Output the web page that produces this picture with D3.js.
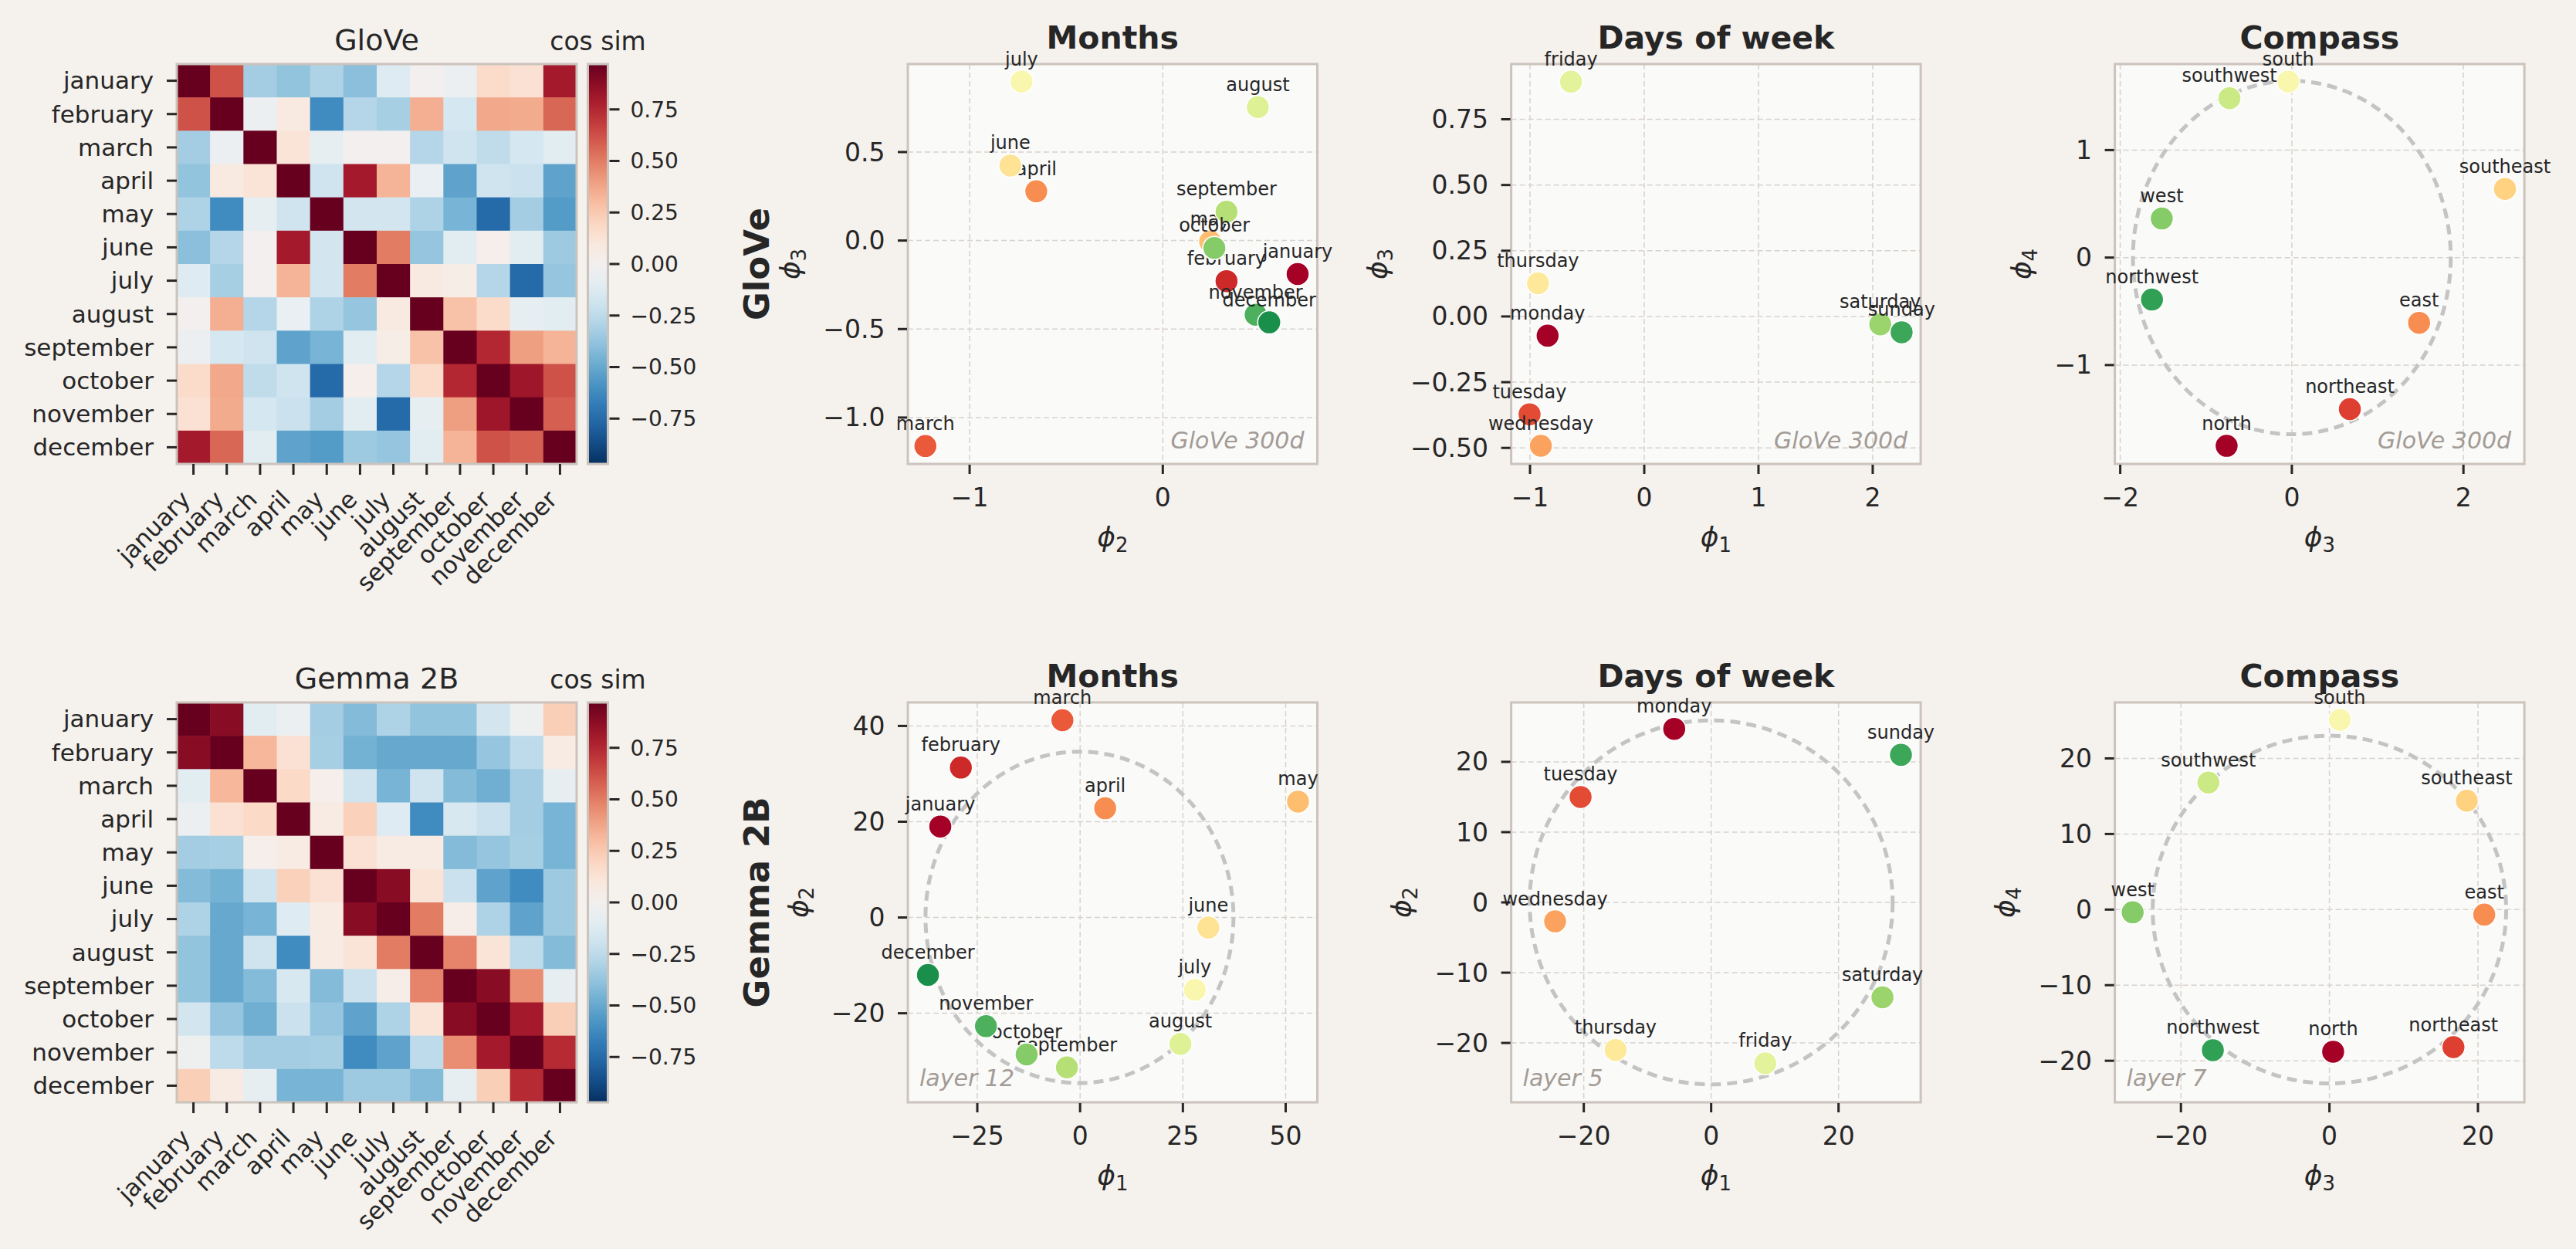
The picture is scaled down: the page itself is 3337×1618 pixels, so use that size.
<!DOCTYPE html>
<html>
<head>
<meta charset="utf-8">
<script src="https://cdn.jsdelivr.net/npm/d3@7"></script>
<style>
  body { margin: 0; background: #f5f1ed; }
  svg { display: block; font-family: "DejaVu Sans", sans-serif; }
</style>
</head>
<body>
<div id="chart"></div>
<script>
const months = ["january", "february", "march", "april", "may", "june", "july",
    "august", "september", "october", "november", "december"];
const days = ["monday", "tuesday", "wednesday", "thursday", "friday", "saturday", "sunday"];
const compass = ["north", "northeast", "east", "southeast", "south", "southwest", "west", "northwest"];

// cosine similarity between month embeddings
const gloveSim = [
    [1.00, 0.62, -0.33, -0.38, -0.30, -0.40, -0.12, 0.00, -0.04, 0.17, 0.14, 0.80],
    [0.62, 1.00, -0.04, 0.08, -0.62, -0.28, -0.32, 0.35, -0.16, 0.37, 0.36, 0.56],
    [-0.33, -0.04, 1.00, 0.12, -0.08, 0.00, 0.00, -0.28, -0.18, -0.24, -0.16, -0.10],
    [-0.38, 0.08, 0.12, 1.00, -0.18, 0.80, 0.33, -0.06, -0.52, -0.18, -0.20, -0.52],
    [-0.30, -0.62, -0.08, -0.18, 1.00, -0.17, -0.17, -0.30, -0.45, -0.75, -0.33, -0.55],
    [-0.40, -0.28, 0.00, 0.80, -0.17, 1.00, 0.50, -0.37, -0.10, 0.03, -0.10, -0.35],
    [-0.12, -0.32, 0.00, 0.33, -0.17, 0.50, 1.00, 0.08, 0.05, -0.28, -0.75, -0.37],
    [0.00, 0.35, -0.28, -0.06, -0.30, -0.37, 0.08, 1.00, 0.28, 0.17, -0.08, -0.10],
    [-0.04, -0.16, -0.18, -0.52, -0.45, -0.10, 0.05, 0.28, 1.00, 0.75, 0.40, 0.33],
    [0.17, 0.37, -0.24, -0.18, -0.75, 0.03, -0.28, 0.17, 0.75, 1.00, 0.82, 0.62],
    [0.14, 0.36, -0.16, -0.20, -0.33, -0.10, -0.75, -0.08, 0.40, 0.82, 1.00, 0.58],
    [0.80, 0.56, -0.10, -0.52, -0.55, -0.35, -0.37, -0.10, 0.33, 0.62, 0.58, 1.00]
];
const gemmaSim = [
    [1.00, 0.88, -0.10, -0.05, -0.33, -0.42, -0.30, -0.38, -0.38, -0.17, -0.03, 0.23],
    [0.88, 1.00, 0.32, 0.14, -0.32, -0.46, -0.50, -0.50, -0.50, -0.37, -0.25, 0.07],
    [-0.10, 0.32, 1.00, 0.18, 0.03, -0.18, -0.45, -0.18, -0.42, -0.47, -0.33, -0.08],
    [-0.05, 0.14, 0.18, 1.00, 0.07, 0.22, -0.12, -0.62, -0.15, -0.20, -0.33, -0.45],
    [-0.33, -0.32, 0.03, 0.07, 1.00, 0.14, 0.07, 0.07, -0.42, -0.37, -0.32, -0.45],
    [-0.42, -0.46, -0.18, 0.22, 0.14, 1.00, 0.88, 0.12, -0.20, -0.52, -0.62, -0.35],
    [-0.30, -0.50, -0.45, -0.12, 0.07, 0.88, 1.00, 0.50, 0.04, -0.30, -0.52, -0.35],
    [-0.38, -0.50, -0.18, -0.62, 0.07, 0.12, 0.50, 1.00, 0.48, 0.12, -0.25, -0.42],
    [-0.38, -0.50, -0.42, -0.15, -0.42, -0.20, 0.04, 0.48, 1.00, 0.88, 0.45, -0.08],
    [-0.17, -0.37, -0.47, -0.20, -0.37, -0.52, -0.30, 0.12, 0.88, 1.00, 0.80, 0.23],
    [-0.03, -0.25, -0.33, -0.33, -0.32, -0.62, -0.52, -0.25, 0.45, 0.80, 1.00, 0.74],
    [0.23, 0.07, -0.08, -0.45, -0.45, -0.35, -0.35, -0.42, -0.08, 0.23, 0.74, 1.00]
];
const simTicks = [-0.75, -0.5, -0.25, 0, 0.25, 0.5, 0.75];

// projections (phi coordinates)
const gloveMonthsX = [0.698, 0.330, -1.229, -0.655, 0.245, -0.789, -0.731, 0.492, 0.330, 0.267, 0.481, 0.551];
const gloveMonthsY = [-0.189, -0.229, -1.161, 0.278, -0.006, 0.424, 0.898, 0.754, 0.163, -0.042, -0.419, -0.462];
const gloveDaysX = [-0.846, -1.004, -0.905, -0.930, -0.641, 2.066, 2.253];
const gloveDaysY = [-0.073, -0.372, -0.492, 0.126, 0.893, -0.030, -0.060];
const gloveCompassX = [-0.760, 0.676, 1.483, 2.484, -0.042, -0.727, -1.516, -1.630];
const gloveCompassY = [-1.752, -1.410, -0.607, 0.639, 1.637, 1.483, 0.363, -0.391];

const gemmaMonthsX = [-34.0, -29.0, -4.3, 6.1, 53.0, 31.2, 27.9, 24.4, -3.2, -13.0, -22.9, -37.0];
const gemmaMonthsY = [19.0, 31.3, 41.2, 22.8, 24.2, -2.1, -15.1, -26.4, -31.3, -28.6, -22.7, -12.0];
const gemmaDaysX = [-5.8, -20.5, -24.5, -15.0, 8.5, 26.9, 29.8];
const gemmaDaysY = [24.7, 15.0, -2.7, -21.0, -22.9, -13.5, 21.0];
const gemmaCompassX = [0.5, 16.7, 20.85, 18.5, 1.4, -16.3, -26.5, -15.7];
const gemmaCompassY = [-18.8, -18.2, -0.67, 14.4, 25.1, 16.8, -0.36, -18.6];

// fitted rings: [cx, cy, rx, ry]
const gloveCompassRing = [0, 0, 1.852, 1.644];
const gemmaMonthsRing = [-0.15, 0.04, 37.45, 34.6];
const gemmaDaysRing = [0, 0, 28.5, 25.9];
const gemmaCompassRing = [0, 0, 23.8, 23.0];

// axis limits and ticks
const gloveMonthsLim = { x: [-1.32, 0.80], y: [-1.262, 0.997] };
const gloveDaysLim = { x: [-1.165, 2.42], y: [-0.561, 0.96] };
const gloveCompassLim = { x: [-2.063, 2.71], y: [-1.92, 1.80] };
const gemmaMonthsLim = { x: [-41.9, 57.7], y: [-38.6, 44.9] };
const gemmaDaysLim = { x: [-31.4, 32.9], y: [-28.45, 28.45] };
const gemmaCompassLim = { x: [-28.9, 26.25], y: [-25.5, 27.4] };

const gloveMonthsTicks = { x: [-1, 0], y: [-1, -0.5, 0, 0.5] };
const gloveDaysTicks = { x: [-1, 0, 1, 2], y: [-0.5, -0.25, 0, 0.25, 0.5, 0.75] };
const gloveCompassTicks = { x: [-2, 0, 2], y: [-1, 0, 1] };
const gemmaMonthsTicks = { x: [-25, 0, 25, 50], y: [-20, 0, 20, 40] };
const gemmaDaysTicks = { x: [-20, 0, 20], y: [-20, -10, 0, 10, 20] };
const gemmaCompassTicks = { x: [-20, 0, 20], y: [-20, -10, 0, 10, 20] };

// ---------------------------------------------------------------
const W = 3337, H = 1618;
const ink = '#262626', spineCol = '#cbc3bc', face = '#fafaf9',
    gridCol = '#d8d2cd', noteCol = '#a39b95';

const svg = d3.select('#chart').append('svg')
    .attr('width', W).attr('height', H);
svg.append('rect').attr('width', W).attr('height', H).attr('fill', '#f5f1ed');

const cmap = d3.scaleSequential(t => d3.interpolateRdBu(1 - t))
    .domain([-0.97, 0.97]).clamp(true);

const defs = svg.append('defs');
const grad = defs.append('linearGradient').attr('id', 'cbgrad')
    .attr('x1', 0).attr('y1', 1).attr('x2', 0).attr('y2', 0);
d3.range(0, 1.0001, 0.05).forEach(t => {
    grad.append('stop').attr('offset', t).attr('stop-color', d3.interpolateRdBu(1 - t));
});

function heatmap(mat, title, top) {
    const left = 229, size = 518;
    const g = svg.append('g');
    const x = d3.scaleBand().domain(months).range([left, left + size]);
    const y = d3.scaleBand().domain(months).range([top, top + size]);

    const cells = [];
    mat.forEach((row, i) => row.forEach((v, j) => cells.push({ r: months[i], c: months[j], v })));
    g.selectAll('rect.cell').data(cells).join('rect')
        .attr('class', 'cell')
        .attr('x', d => x(d.c)).attr('y', d => y(d.r))
        .attr('width', x.bandwidth() + 0.6).attr('height', y.bandwidth() + 0.6)
        .attr('fill', d => cmap(d.v));

    g.append('rect').attr('x', left).attr('y', top).attr('width', size).attr('height', size)
        .attr('fill', 'none').attr('stroke', spineCol).attr('stroke-width', 3);

    // y ticks
    months.forEach(m => {
        const cy = y(m) + y.bandwidth() / 2;
        g.append('line').attr('x1', left - 13).attr('x2', left).attr('y1', cy).attr('y2', cy)
            .attr('stroke', ink).attr('stroke-width', 3);
        g.append('text').attr('x', left - 30).attr('y', cy).attr('dy', '0.35em')
            .attr('text-anchor', 'end').attr('font-size', 31).attr('fill', ink).text(m);
    });
    // x ticks, rotated labels
    months.forEach(m => {
        const cx = x(m) + x.bandwidth() / 2;
        const bottom = top + size;
        g.append('line').attr('x1', cx).attr('x2', cx).attr('y1', bottom).attr('y2', bottom + 14)
            .attr('stroke', ink).attr('stroke-width', 3);
        g.append('text')
            .attr('transform', `translate(${cx - 2},${bottom + 48}) rotate(-45)`)
            .attr('text-anchor', 'end').attr('font-size', 31).attr('fill', ink).text(m);
    });

    g.append('text').attr('x', left + size / 2).attr('y', top - 18)
        .attr('text-anchor', 'middle').attr('font-size', 38).attr('fill', ink).text(title);

    // colorbar
    const cbL = 761.5, cbW = 26;
    const cs = d3.scaleLinear().domain(cmap.domain()).range([top + size, top]);
    g.append('rect').attr('x', cbL).attr('y', top).attr('width', cbW).attr('height', size)
        .attr('fill', 'url(#cbgrad)').attr('stroke', spineCol).attr('stroke-width', 3);
    const fmt = d3.format('.2f');
    simTicks.forEach(t => {
        g.append('line').attr('x1', cbL + cbW + 2).attr('x2', cbL + cbW + 15)
            .attr('y1', cs(t)).attr('y2', cs(t)).attr('stroke', ink).attr('stroke-width', 3);
        g.append('text').attr('x', cbL + cbW + 29).attr('y', cs(t)).attr('dy', '0.35em')
            .attr('font-size', 28).attr('fill', ink).text(fmt(t));
    });
    g.append('text').attr('x', cbL + cbW / 2).attr('y', top - 18)
        .attr('text-anchor', 'middle').attr('font-size', 33).attr('fill', ink).text('cos sim');
}

function phiLabel(sel, sub) {
    sel.append('tspan').attr('font-style', 'italic').text('\u03D5');
    sel.append('tspan').attr('font-size', '72%').attr('dy', '0.28em').text(sub);
}

function scatter(p) {
    const w = 530.5, h = 518;
    const { left, top } = p;
    const x = d3.scaleLinear().domain(p.lim.x).range([left, left + w]);
    const y = d3.scaleLinear().domain(p.lim.y).range([top + h, top]);
    const g = svg.append('g');

    g.append('rect').attr('x', left).attr('y', top).attr('width', w).attr('height', h).attr('fill', face);

    // grid
    g.selectAll('line.gx').data(p.ticks.x).join('line').attr('class', 'gx')
        .attr('x1', d => x(d)).attr('x2', d => x(d)).attr('y1', top).attr('y2', top + h)
        .attr('stroke', gridCol).attr('stroke-width', 1.5).attr('stroke-dasharray', '7,4');
    g.selectAll('line.gy').data(p.ticks.y).join('line').attr('class', 'gy')
        .attr('y1', d => y(d)).attr('y2', d => y(d)).attr('x1', left).attr('x2', left + w)
        .attr('stroke', gridCol).attr('stroke-width', 1.5).attr('stroke-dasharray', '7,4');

    if (p.ring) {
        const [cx, cy, rx, ry] = p.ring;
        g.append('ellipse')
            .attr('cx', x(cx)).attr('cy', y(cy))
            .attr('rx', x(cx + rx) - x(cx)).attr('ry', y(cy) - y(cy + ry))
            .attr('fill', 'none').attr('stroke', '#c4c4c4').attr('stroke-width', 5)
            .attr('stroke-dasharray', '13,8');
    }

    g.append('rect').attr('x', left).attr('y', top).attr('width', w).attr('height', h)
        .attr('fill', 'none').attr('stroke', spineCol).attr('stroke-width', 3);

    // note
    if (p.noteRight) {
        g.append('text').attr('x', left + w - 17).attr('y', top + h - 20)
            .attr('text-anchor', 'end').attr('font-size', 30).attr('font-style', 'italic')
            .attr('fill', noteCol).text(p.note);
    } else {
        g.append('text').attr('x', left + 15).attr('y', top + h - 21)
            .attr('font-size', 30).attr('font-style', 'italic')
            .attr('fill', noteCol).text(p.note);
    }

    // points and labels, drawn in order
    const n = p.names.length;
    p.names.forEach((name, i) => {
        const px = x(p.xs[i]), py = y(p.ys[i]);
        g.append('circle').attr('cx', px).attr('cy', py).attr('r', 15)
            .attr('fill', d3.interpolateRdYlGn(i / n))
            .attr('stroke', '#fff').attr('stroke-width', 1.5);
        g.append('text').attr('x', px).attr('y', py - 21)
            .attr('text-anchor', 'middle').attr('font-size', 24).attr('fill', ink).text(name);
    });

    // axes ticks
    const bottom = top + h;
    const xf = p.xFmt || d3.format('d'), yf = p.yFmt || d3.format('d');
    p.ticks.x.forEach(t => {
        g.append('line').attr('x1', x(t)).attr('x2', x(t)).attr('y1', bottom + 1).attr('y2', bottom + 13)
            .attr('stroke', ink).attr('stroke-width', 3);
        g.append('text').attr('x', x(t)).attr('y', bottom + 55).attr('text-anchor', 'middle')
            .attr('font-size', 33).attr('fill', ink).text(xf(t));
    });
    const gy = g.append('g');
    p.ticks.y.forEach(t => {
        gy.append('line').attr('x1', left - 13).attr('x2', left - 1).attr('y1', y(t)).attr('y2', y(t))
            .attr('stroke', ink).attr('stroke-width', 3);
        gy.append('text').attr('x', left - 29.5).attr('y', y(t)).attr('dy', '0.35em')
            .attr('text-anchor', 'end').attr('font-size', 33).attr('fill', ink).text(yf(t));
    });
    const bx = gy.node().getBBox().x;

    g.append('text').attr('x', left + w / 2).attr('y', bottom + 107)
        .attr('text-anchor', 'middle').attr('font-size', 36).attr('fill', ink)
        .call(phiLabel, p.xSub);
    g.append('text')
        .attr('transform', `translate(${bx - 30},${top + h / 2}) rotate(-90)`)
        .attr('text-anchor', 'middle').attr('font-size', 36).attr('fill', ink)
        .call(phiLabel, p.ySub);

    g.append('text').attr('x', left + w / 2).attr('y', top - 20)
        .attr('text-anchor', 'middle').attr('font-size', 41).attr('font-weight', 'bold')
        .attr('fill', ink).text(p.title);
}

const rowTop = [83, 910];
const colLeft = [1176, 1957.6, 2739.6];

heatmap(gloveSim, 'GloVe', rowTop[0]);
heatmap(gemmaSim, 'Gemma 2B', rowTop[1]);

scatter({ left: colLeft[0], top: rowTop[0], names: months, xs: gloveMonthsX, ys: gloveMonthsY,
    lim: gloveMonthsLim, ticks: gloveMonthsTicks, yFmt: d3.format('.1f'),
    title: 'Months', xSub: '2', ySub: '3', note: 'GloVe 300d', noteRight: true });
scatter({ left: colLeft[1], top: rowTop[0], names: days, xs: gloveDaysX, ys: gloveDaysY,
    lim: gloveDaysLim, ticks: gloveDaysTicks, yFmt: d3.format('.2f'),
    title: 'Days of week', xSub: '1', ySub: '3', note: 'GloVe 300d', noteRight: true });
scatter({ left: colLeft[2], top: rowTop[0], names: compass, xs: gloveCompassX, ys: gloveCompassY,
    lim: gloveCompassLim, ticks: gloveCompassTicks, ring: gloveCompassRing,
    title: 'Compass', xSub: '3', ySub: '4', note: 'GloVe 300d', noteRight: true });

scatter({ left: colLeft[0], top: rowTop[1], names: months, xs: gemmaMonthsX, ys: gemmaMonthsY,
    lim: gemmaMonthsLim, ticks: gemmaMonthsTicks, ring: gemmaMonthsRing,
    title: 'Months', xSub: '1', ySub: '2', note: 'layer 12', noteRight: false });
scatter({ left: colLeft[1], top: rowTop[1], names: days, xs: gemmaDaysX, ys: gemmaDaysY,
    lim: gemmaDaysLim, ticks: gemmaDaysTicks, ring: gemmaDaysRing,
    title: 'Days of week', xSub: '1', ySub: '2', note: 'layer 5', noteRight: false });
scatter({ left: colLeft[2], top: rowTop[1], names: compass, xs: gemmaCompassX, ys: gemmaCompassY,
    lim: gemmaCompassLim, ticks: gemmaCompassTicks, ring: gemmaCompassRing,
    title: 'Compass', xSub: '3', ySub: '4', note: 'layer 7', noteRight: false });

// row labels
[['GloVe', rowTop[0]], ['Gemma 2B', rowTop[1]]].forEach(([lab, top]) => {
    svg.append('text')
        .attr('transform', `translate(996,${top + 259}) rotate(-90)`)
        .attr('text-anchor', 'middle').attr('font-size', 45).attr('font-weight', 'bold')
        .attr('fill', ink).text(lab);
});
</script>
</body>
</html>
